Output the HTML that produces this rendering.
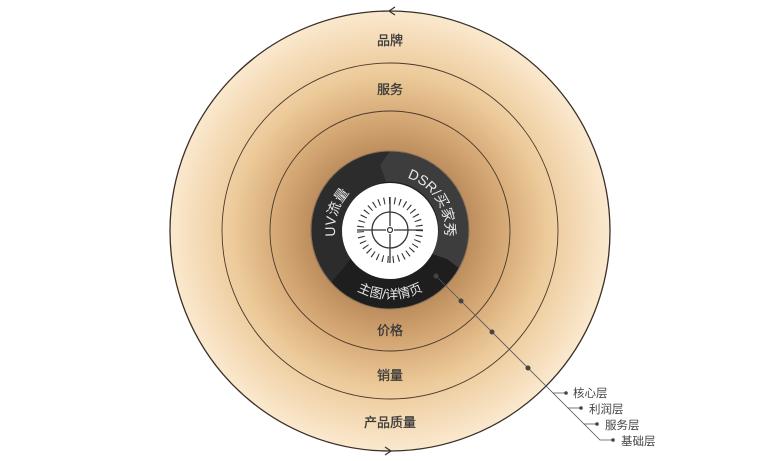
<!DOCTYPE html>
<html><head><meta charset="utf-8"><style>
html,body{margin:0;padding:0;background:#fff;}
svg{display:block;font-family:"Liberation Sans","Noto Sans CJK SC",sans-serif;}
</style></head><body>
<svg width="780" height="461" viewBox="0 0 780 461" xmlns="http://www.w3.org/2000/svg">
<defs>
<radialGradient id="g" cx="390" cy="231" r="221" gradientUnits="userSpaceOnUse">
<stop offset="0.3" stop-color="#b48555"/>
<stop offset="0.5" stop-color="#d3a673"/>
<stop offset="0.7" stop-color="#ecc998"/>
<stop offset="1" stop-color="#fbe9cf"/>
</radialGradient>
<path id="pb" d="M 321 230 A 69 69 0 0 0 459 230"/>
<path id="pr" d="M 390 175 A 55 55 0 0 1 445 230 A 55 55 0 0 1 390 285"/>
<path id="pl" d="M 390 285 A 55 55 0 0 1 335 230 A 55 55 0 0 1 390 175"/>
</defs>
<circle cx="390" cy="231" r="220" fill="url(#g)" stroke="#3a3028" stroke-width="1.3"/>
<circle cx="390" cy="231" r="168" fill="none" stroke="#4a3a2c" stroke-width="0.9"/>
<circle cx="390" cy="231" r="120" fill="none" stroke="#4a3a2c" stroke-width="0.9"/>
<path d="M395 7 L389 11 L395 15" fill="none" stroke="#333" stroke-width="1.2"/>
<path d="M385 447 L391 451 L385 455" fill="none" stroke="#333" stroke-width="1.2"/>
<!-- dark ring -->
<circle cx="390" cy="230" r="79" fill="#1e1e1e"/>
<path d="M 390 151 A 79 79 0 0 1 459 268 L 447 259 L 432 254 A 48 48 0 0 0 386 182 L 380 165 Z" fill="#3d3d3d"/>
<path d="M 390 151 A 79 79 0 0 0 331 283 L 345 266 L 352 257 A 48 48 0 0 1 386 182 L 380 165 Z" fill="#2c2c2c"/>
<circle cx="390" cy="230" r="79" fill="none" stroke="#8a7058" stroke-width="1"/>
<circle cx="390" cy="231" r="48" fill="#fff"/>
<circle cx="390" cy="230" r="29.5" fill="none" stroke="#333" stroke-width="7" stroke-dasharray="1.1 4.2"/>
<circle cx="390" cy="230" r="18" fill="none" stroke="#333" stroke-width="1.3"/>
<line x1="357" y1="230" x2="386" y2="230" stroke="#333" stroke-width="1.3"/>
<line x1="394" y1="230" x2="423" y2="230" stroke="#333" stroke-width="1.3"/>
<line x1="390" y1="197" x2="390" y2="226" stroke="#333" stroke-width="1.3"/>
<line x1="390" y1="234" x2="390" y2="263" stroke="#333" stroke-width="1.3"/>
<circle cx="390" cy="230" r="2.5" fill="none" stroke="#333" stroke-width="1.2"/>
<g fill="#e8e8e8" font-size="14">
<text font-size="13"><textPath href="#pb" startOffset="50%" text-anchor="middle">主图/详情页</textPath></text>
<text><textPath href="#pr" startOffset="32%" text-anchor="middle">DSR/买家秀</textPath></text>
<text><textPath href="#pl" startOffset="60%" text-anchor="middle">UV流量</textPath></text>
</g>
<g font-size="13" fill="#3a3a3a" text-anchor="middle" stroke="#3a3a3a" stroke-width="0.3">
<text x="390" y="45">品牌</text>
<text x="390" y="94">服务</text>
<text x="390" y="335">价格</text>
<text x="390" y="380">销量</text>
<text x="390" y="427">产品质量</text>
</g>
<!-- leader -->
<polyline points="436,276 600,440 613,440" fill="none" stroke="#555" stroke-width="0.8"/>
<polyline points="553,393 566,393" stroke="#555" stroke-width="0.8"/>
<polyline points="568,408 581,408" stroke="#555" stroke-width="0.8"/>
<polyline points="584,424 597,424" stroke="#555" stroke-width="0.8"/>
<g fill="#444">
<circle cx="436" cy="276" r="2.5"/>
<circle cx="461" cy="301" r="2.5"/>
<circle cx="492" cy="332" r="2.5"/>
<circle cx="528" cy="368" r="2.5"/>
<circle cx="566" cy="393" r="1.8"/>
<circle cx="581" cy="408" r="1.8"/>
<circle cx="597" cy="424" r="1.8"/>
<circle cx="613" cy="440" r="1.8"/>
</g>
<g font-size="11.5" fill="#444">
<text x="573" y="397">核心层</text>
<text x="589" y="413">利润层</text>
<text x="605" y="429">服务层</text>
<text x="621" y="445">基础层</text>
</g>
</svg>
</body></html>
